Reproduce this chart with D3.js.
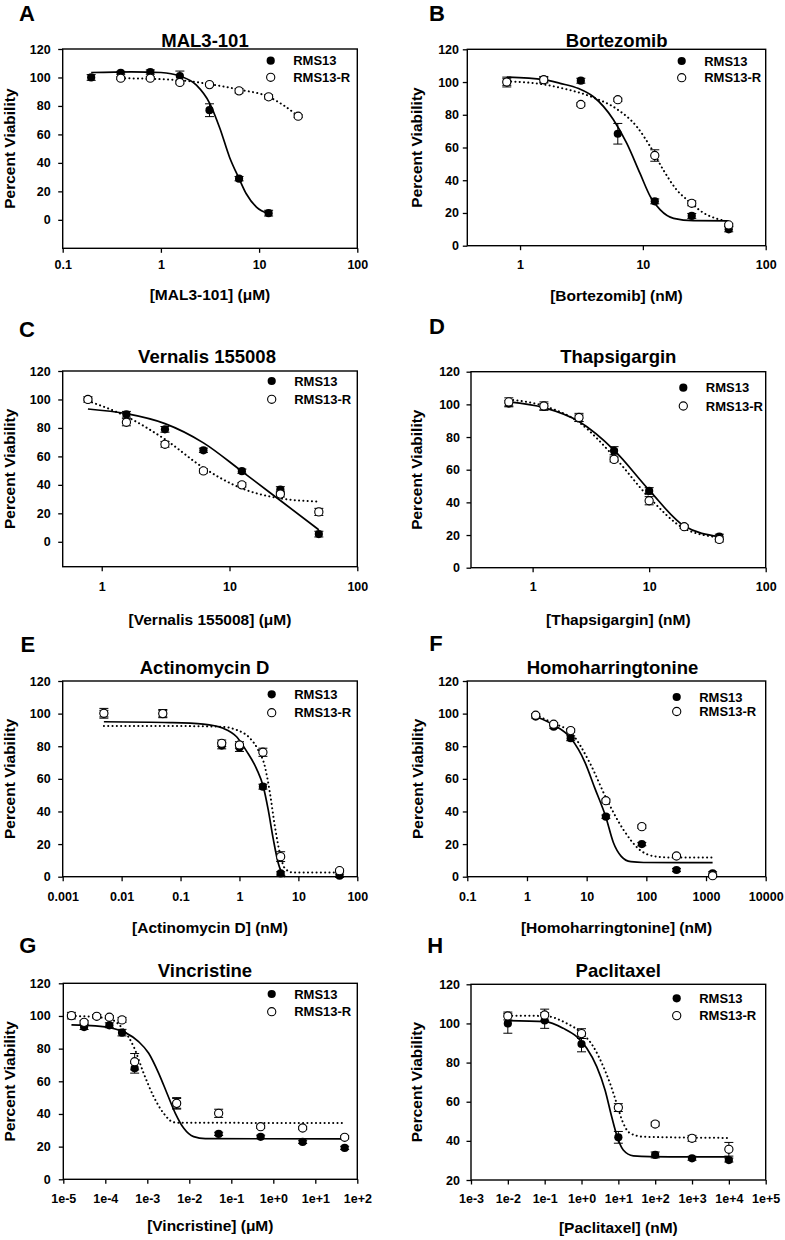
<!DOCTYPE html>
<html><head><meta charset="utf-8">
<script src="https://cdn.jsdelivr.net/npm/d3@7"></script>
<style>body{margin:0;background:#fff}svg{display:block}</style>
</head><body>
<svg id="chart" width="785" height="1240"></svg>
<script>
// ---------- DATA ----------
const letters = ["A","B","C","D","E","F","G","H"];
const titles = ["MAL3-101","Bortezomib","Vernalis 155008","Thapsigargin","Actinomycin D","Homoharringtonine","Vincristine","Paclitaxel"];
const xLabels = ["[MAL3-101] (\u03bcM)","[Bortezomib] (nM)","[Vernalis 155008] (\u03bcM)","[Thapsigargin] (nM)","[Actinomycin D] (nM)","[Homoharringtonine] (nM)","[Vincristine] (\u03bcM)","[Paclitaxel] (nM)"];
const seriesNames = ["RMS13","RMS13-R"];
const yLabel = "Percent Viability";

// A  MAL3-101
const concA = [0.195,0.39,0.78,1.56,3.125,6.25,12.5];
const rms13A = [100,103.3,103.8,101,77,28.9,4.7];
const rms13ErrA = [2,1,1.5,3.5,4.5,1.5,2];
const concRA = [0.39,0.78,1.56,3.125,6.25,12.5,25];
const rms13RA = [99.5,99.5,96.5,95,90.6,86.4,72.8];
const rms13RErrA = [1,1,1,1,1.5,1.5,1];
const fit13A = [[0.195,103.5],[0.5,104],[1,103.5],[1.56,101],[2.3,94.6],[3.15,81.7],[4,64],[5,44],[6.25,29],[7.4,18.3],[9.4,9],[12.5,4.5]];
const fitRA = [[0.39,99.5],[1.56,98.1],[3.125,95.3],[6.25,91.5],[12.5,86.4],[17.7,80.5],[25,72.8]];
const xTicksA = [0.1,1,10,100];
const xTickLabelsA = ["0.1","1","10","100"];

// B  Bortezomib
const concB = [0.78,1.56,3.125,6.25,12.5,25,50];
const rms13B = [100,101.4,100.8,68.4,27.1,18.2,10];
const rms13ErrB = [2,1.5,1.5,6.3,1.5,1.5,1.5];
const rms13RB = [100,101.4,86.3,89.2,55.1,25.9,12.7];
const rms13RErrB = [3,2,1,1,3.5,1.5,1];
const fit13B = [[0.78,103],[1.56,101.5],[2.12,99.2],[3,96],[3.96,91],[5.76,77],[7.4,62.5],[9.5,44],[11.5,30],[13.8,22],[17.8,16.7],[25.8,15.3],[50,15.2]];
const fitRB = [[0.78,100.5],[1.56,98.5],[2.12,96.5],[3.96,90.5],[6.14,83.5],[8.93,72.7],[11.5,60.5],[14.7,46.2],[18.9,34],[24.3,26.5],[31.2,20],[40,16.5],[50,14.7]];
const xTicksB = [1,10,100];
const xTickLabelsB = ["1","10","100"];

// C  Vernalis 155008
const concC = [0.78,1.56,3.125,6.25,12.5,25,50];
const rms13C = [100,89.6,79,64.3,49.6,36.7,5.4];
const rms13ErrC = [1,2,2,1.5,1.5,2,2];
const rms13RC = [100,84,68.5,49.8,40,33.5,21];
const rms13RErrC = [2,2.5,2,1.5,1.5,2,2.5];
const fit13C = [[0.78,93.3],[1.56,90],[3.125,83],[6.25,69.5],[12.5,49.5],[25,29],[50,8.4]];
const fitRC = [[0.78,99],[1.56,88],[3.125,72],[6.25,52],[12.5,37.5],[25,30.5],[50,28.3]];
const xTicksC = [1,10,100];
const xTickLabelsC = ["1","10","100"];

// D  Thapsigargin
const concD = [0.625,1.25,2.5,5,10,20,40];
const rms13D = [100.5,98.5,91.5,71.6,47,25,19];
const rms13ErrD = [2,2,2,2.5,2,1,1.5];
const rms13RD = [101.5,99,92,66.3,41,25.1,17.3];
const rms13RErrD = [2.5,2.5,2.5,1.5,2.5,1,1.5];
const fit13D = [[0.625,101.5],[1.25,98],[2.5,89.5],[5,72],[10,47.5],[20,25.5],[40,19]];
const fitRD = [[0.625,103],[1.25,99],[2.5,89],[5,68],[10,43],[20,24],[40,18.5]];
const xTicksD = [1,10,100];
const xTickLabelsD = ["1","10","100"];

// E  Actinomycin D
const concE = [0.005,0.05,0.5,1,2.5,5,50];
const rms13E = [100,100,80.4,79.3,55.2,2,0.6];
const rms13ErrE = [2,2,2,2.5,1.5,1,1];
const rms13RE = [100.2,100,81.8,80.8,76.3,12.3,3.7];
const rms13RErrE = [3,2.5,2,2,2.5,3,1];
const fit13E = [[0.005,95],[0.066,94.5],[0.243,93.6],[0.53,91],[0.895,85.8],[1.32,77],[1.96,66],[2.54,55.2],[3.08,41],[3.75,23],[4.56,8.2],[5.54,1],[6,0]];
const fitRE = [[0.005,92.4],[0.066,92.4],[0.467,92],[0.895,90],[1.51,84.9],[2.08,77.7],[2.71,67.4],[3.3,51.1],[4.0,30.7],[4.87,14.3],[5.9,5.1],[8.2,2.5],[50,2.5]];
const xTicksE = [0.001,0.01,0.1,1,10,100];
const xTickLabelsE = ["0.001","0.01","0.1","1","10","100"];

// F  Homoharringtonine
const concF = [1.4,2.8,5.4,21,84,320,1290];
const rms13F = [98.2,92,84.9,36.8,20,4.1,2];
const rms13ErrF = [1,1,1.5,1,1,1,1];
const rms13RF = [99,93.5,89.6,46.6,30.7,12.7,0.6];
const rms13RErrF = [1,1,1,1,1,1,1];
const fit13F = [[1.4,98.2],[2.8,93],[5.4,85],[9.4,70],[13.8,54],[21,36.5],[28,21],[38,12.5],[55,9.2],[90,8.7],[1290,8.6]];
const fitRF = [[1.4,99.2],[2.8,94],[5.4,88.5],[11.4,69.5],[21,48.5],[41,29],[78,16.4],[150,12.3],[300,11.7],[1290,11.7]];
const xTicksF = [0.1,1,10,100,1000,10000];
const xTickLabelsF = ["0.1","1","10","100","1000","10000"];

// G  Vincristine
const concG = [1.5625e-5,3.125e-5,6.25e-5,1.25e-4,2.5e-4,5e-4,5e-3,5e-2,0.5,5,50];
const rms13G = [100,93.2,99.8,94.3,89.8,68,46.5,27.8,26,22.9,19.2];
const rms13ErrG = [1,1.5,1,1.5,2,3,3,1,1,1,1];
const rms13RG = [100.2,96.1,99.8,99.2,97.6,72,46.5,40.4,32.2,31.4,25.7];
const rms13RErrG = [2,1,1,1,1.5,5,3.5,2.5,1,1,1];
const fit13G = [[1.5625e-5,94.5],[5.8e-5,93.9],[1.45e-4,92.5],[3e-4,89.8],[6.2e-4,84.3],[1.08e-3,77.2],[1.87e-3,64.9],[2.94e-3,52.7],[4.65e-3,40.4],[7.4e-3,31.2],[1.27e-2,26.1],[2.4e-2,24.9],[50,24.7]];
const fitRG = [[1.5625e-5,100],[4.8e-5,99.6],[1.45e-4,97.6],[2.74e-4,91.4],[4.74e-4,81.2],[8.2e-4,64.9],[1.42e-3,50.6],[2.45e-3,40.4],[4.25e-3,34.9],[6.7e-3,34.6],[50,34.5]];
const xTicksG = [1e-5,1e-4,1e-3,1e-2,1e-1,1,10,100];
const xTickLabelsG = ["1e-5","1e-4","1e-3","1e-2","1e-1","1e+0","1e+1","1e+2"];

// H  Paclitaxel
const concH = [0.01,0.1,1,10,100,1000,10000];
const rms13H = [100,101.5,89.5,41.8,32.8,31.1,30.2];
const rms13ErrH = [5,4,4,3,1.5,1,1];
const rms13RH = [103.8,104.3,94.8,57,48.6,41.3,35.7];
const rms13RErrH = [2,3,2.5,2,1,1.5,3.5];
const fit13H = [[0.01,101.4],[0.102,100.9],[0.32,97.5],[0.74,93.2],[1.39,87.3],[2.59,77.9],[4.35,66],[6.6,52.3],[9.0,43],[13.6,35.3],[25.5,32.3],[72,31.9],[10000,31.8]];
const fitRH = [[0.01,104],[0.102,103.8],[0.4,100],[0.91,95.8],[2.1,88.1],[3.92,77.9],[5.94,69.4],[9.0,59.2],[13.6,49],[20.8,43.9],[47.8,42.1],[10000,41.5]];
const xTicksH = [1e-3,1e-2,1e-1,1,10,100,1000,10000,100000];
const xTickLabelsH = ["1e-3","1e-2","1e-1","1e+0","1e+1","1e+2","1e+3","1e+4","1e+5"];

const yTicks120 = [0,20,40,60,80,100,120];
const yTicksH = [20,40,60,80,100,120];

// ---------- LAYOUT (per panel geometry) ----------
const panels = [
 {c13:concA,v13:rms13A,e13:rms13ErrA,cR:concRA,vR:rms13RA,eR:rms13RErrA,f13:fit13A,fR:fitRA,xt:xTicksA,xl:xTickLabelsA,yt:yTicks120,
  x0:62.7,x1:357.3,y0:49,y1:248.3,xDom:[0.1,100],yDom:[-20,120],letter:[19,21],titleX:205,titleY:46.7,ylx:14.5,xlabY:299.5,ygap:12,xpad:7.5,leg:[270.7,60.7,16.6]},
 {c13:concB,v13:rms13B,e13:rms13ErrB,cR:concB,vR:rms13RB,eR:rms13RErrB,f13:fit13B,fR:fitRB,xt:xTicksB,xl:xTickLabelsB,yt:yTicks120,
  x0:467.3,x1:765.7,y0:49.3,y1:245.7,xDom:[0.372,100],yDom:[0,120],letter:[429,21],titleX:616.7,titleY:46.7,ylx:421.5,xlabY:301,ygap:8.3,xpad:10,leg:[681.7,61,16.7]},
 {c13:concC,v13:rms13C,e13:rms13ErrC,cR:concC,vR:rms13RC,eR:rms13RErrC,f13:fit13C,fR:fitRC,xt:xTicksC,xl:xTickLabelsC,yt:yTicks120,
  x0:62.7,x1:357.3,y0:371,y1:566.7,xDom:[0.495,100],yDom:[-17.5,120],letter:[19,337],titleX:207,titleY:363.3,ylx:14.5,xlabY:624.5,ygap:12,xpad:10.5,leg:[271.7,381,18.3]},
 {c13:concD,v13:rms13D,e13:rms13ErrD,cR:concD,vR:rms13RD,eR:rms13RErrD,f13:fit13D,fR:fitRD,xt:xTicksD,xl:xTickLabelsD,yt:yTicks120,
  x0:471,x1:765.7,y0:371.7,y1:567.7,xDom:[0.296,100],yDom:[0,120],letter:[429,334],titleX:618.3,titleY:363.3,ylx:422,xlabY:624.5,ygap:11,xpad:10,leg:[683.3,387.7,18.3]},
 {c13:concE,v13:rms13E,e13:rms13ErrE,cR:concE,vR:rms13RE,eR:rms13RErrE,f13:fit13E,fR:fitRE,xt:xTicksE,xl:xTickLabelsE,yt:yTicks120,
  x0:62.7,x1:357.3,y0:681,y1:876.7,xDom:[0.001,100],yDom:[0,120],letter:[20.5,651.7],titleX:204.5,titleY:674,ylx:14.5,xlabY:932.5,ygap:12,xpad:10.5,leg:[271.7,694.3,18.4]},
 {c13:concF,v13:rms13F,e13:rms13ErrF,cR:concF,vR:rms13RF,eR:rms13RErrF,f13:fit13F,fR:fitRF,xt:xTicksF,xl:xTickLabelsF,yt:yTicks120,
  x0:467.3,x1:765.7,y0:681,y1:876.7,xDom:[0.1,10000],yDom:[0,120],letter:[429.3,650.7],titleX:612.5,titleY:674,ylx:422.5,xlabY:933,ygap:8.3,xpad:10.5,leg:[676.7,697,14.5]},
 {c13:concG,v13:rms13G,e13:rms13ErrG,cR:concG,vR:rms13RG,eR:rms13RErrG,f13:fit13G,fR:fitRG,xt:xTicksG,xl:xTickLabelsG,yt:yTicks120,
  x0:63.3,x1:357.3,y0:983.3,y1:1179.3,xDom:[1e-5,100],yDom:[0,120],letter:[19.3,952.7],titleX:205,titleY:977.3,ylx:14.5,xlabY:1231,ygap:12.6,xpad:10,leg:[271.7,994,17.7]},
 {c13:concH,v13:rms13H,e13:rms13ErrH,cR:concH,vR:rms13RH,eR:rms13RErrH,f13:fit13H,fR:fitRH,xt:xTicksH,xl:xTickLabelsH,yt:yTicksH,
  x0:471,x1:765.7,y0:984.3,y1:1180,xDom:[0.001,100000],yDom:[20,120],letter:[427.3,952.7],titleX:618.3,titleY:976.7,ylx:422,xlabY:1233,ygap:11,xpad:10,leg:[676.7,998.3,17.3]}
];

const FONT = "'Liberation Sans', Arial, Helvetica, sans-serif";
const svg = d3.select("#chart");
svg.append("rect").attr("width",785).attr("height",1240).attr("fill","#fff");

const R = 4.1, CAP = 4.5, TICK = 4.5;

panels.forEach((p, i) => {
  const x = d3.scaleLog().domain(p.xDom).range([p.x0, p.x1]);
  const y = d3.scaleLinear().domain(p.yDom).range([p.y1, p.y0]);
  const g = svg.append("g").attr("font-family", FONT).attr("font-weight", "bold").attr("fill", "#000");

  g.append("text").attr("x", p.letter[0]).attr("y", p.letter[1]).attr("font-size", 22).text(letters[i]);
  g.append("text").attr("x", p.titleX).attr("y", p.titleY).attr("text-anchor", "middle").attr("font-size", 18.5).text(titles[i]);
  g.append("text").attr("transform", `translate(${p.ylx},${(p.y0 + p.y1) / 2}) rotate(-90)`)
    .attr("text-anchor", "middle").attr("font-size", 15.5).text(yLabel);
  g.append("text").attr("x", (p.x0 + p.x1) / 2).attr("y", p.xlabY).attr("text-anchor", "middle").attr("font-size", 15.5).text(xLabels[i]);

  const xa = d3.axisBottom(x).tickValues(p.xt).tickFormat((d, k) => p.xl[k]).tickSize(TICK).tickSizeOuter(0).tickPadding(p.xpad);
  const ya = d3.axisLeft(y).tickValues(p.yt).tickFormat(d3.format("d")).tickSize(TICK).tickSizeOuter(0).tickPadding(p.ygap - TICK);
  const gx = g.append("g").attr("transform", `translate(0,${p.y1})`).call(xa);
  const gy = g.append("g").attr("transform", `translate(${p.x0},0)`).call(ya);
  [gx, gy].forEach(a => {
    a.attr("font-family", FONT).attr("font-size", 12.5).attr("font-weight", "bold");
    a.select(".domain").remove();
    a.selectAll(".tick line").attr("stroke", "#000").attr("stroke-width", 1.3);
    a.selectAll(".tick text").attr("fill", "#000");
  });
  g.append("rect").attr("x", p.x0).attr("y", p.y0).attr("width", p.x1 - p.x0).attr("height", p.y1 - p.y0)
    .attr("fill", "none").attr("stroke", "#000").attr("stroke-width", 1.4);

  const line = d3.line().x(d => x(d[0])).y(d => y(d[1])).curve(d3.curveMonotoneX);
  g.append("path").attr("d", line(p.fR)).attr("fill", "none").attr("stroke", "#000")
    .attr("stroke-width", 2).attr("stroke-linecap", "round").attr("stroke-dasharray", "0.1 4.2");
  g.append("path").attr("d", line(p.f13)).attr("fill", "none").attr("stroke", "#000").attr("stroke-width", 1.7);

  const errs = [];
  p.c13.forEach((c, k) => errs.push([c, p.v13[k], p.e13[k]]));
  p.cR.forEach((c, k) => errs.push([c, p.vR[k], p.eR[k]]));
  const eg = g.append("g").attr("stroke", "#000").attr("stroke-width", 1);
  errs.forEach(d => {
    const cx = x(d[0]), yl = y(d[1] - d[2]), yh = y(d[1] + d[2]);
    eg.append("line").attr("x1", cx).attr("x2", cx).attr("y1", yl).attr("y2", yh);
    eg.append("line").attr("x1", cx - CAP).attr("x2", cx + CAP).attr("y1", yl).attr("y2", yl);
    eg.append("line").attr("x1", cx - CAP).attr("x2", cx + CAP).attr("y1", yh).attr("y2", yh);
  });

  g.append("g").selectAll("circle").data(p.c13.map((c, k) => [c, p.v13[k]])).join("circle")
    .attr("cx", d => x(d[0])).attr("cy", d => y(d[1])).attr("r", R).attr("fill", "#000");
  g.append("g").selectAll("circle").data(p.cR.map((c, k) => [c, p.vR[k]])).join("circle")
    .attr("cx", d => x(d[0])).attr("cy", d => y(d[1])).attr("r", R).attr("fill", "#fff").attr("stroke", "#000").attr("stroke-width", 1.1);

  const [lx, ly, ldy] = p.leg;
  g.append("circle").attr("cx", lx).attr("cy", ly).attr("r", R).attr("fill", "#000");
  g.append("circle").attr("cx", lx).attr("cy", ly + ldy).attr("r", R).attr("fill", "#fff").attr("stroke", "#000").attr("stroke-width", 1.1);
  g.append("text").attr("x", lx + 22.5).attr("y", ly).attr("dy", "0.36em").attr("font-size", 13).text(seriesNames[0]);
  g.append("text").attr("x", lx + 22.5).attr("y", ly + ldy).attr("dy", "0.36em").attr("font-size", 13).text(seriesNames[1]);
});
</script>
</body></html>
